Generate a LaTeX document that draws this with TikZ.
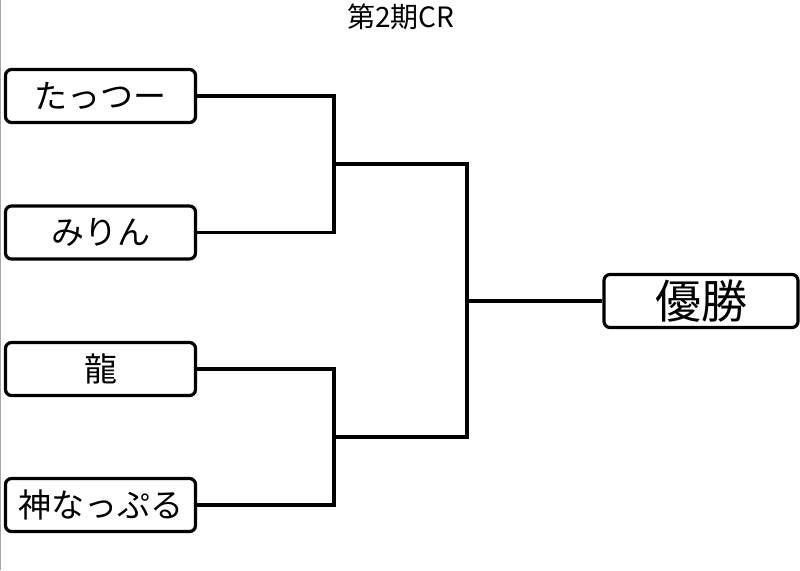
\documentclass[tikz,border=0pt]{standalone}
\usepackage{fontspec}
\newfontfamily\jpfont{Noto Sans CJK JP}
\usetikzlibrary{positioning}

\begin{document}
\begin{tikzpicture}[x=1pt,y=-1pt,
    playernode/.style={rectangle, rounded corners=6pt, draw=black, line width=3.2pt,
        minimum width=190pt, minimum height=53pt, inner sep=0pt,
        font=\jpfont\fontsize{33}{40}\selectfont},
    winnernode/.style={playernode, minimum width=194pt, font=\jpfont\fontsize{46}{52}\selectfont},
    bracket/.style={line width=3.2pt}]
        \useasboundingbox (0,0) rectangle (800,570);
        \draw[gray!70, line width=1.5pt] (0.5,0) -- (0.5,570);
        %Title
        \node[font=\jpfont\fontsize{28}{32}\selectfont] (title) at (401,17) {第2期CR};
        %Nodes
        \node[playernode]      (p1)       at (100.5,96)  {たっつー};
        \node[playernode]      (p2)       at (100.5,232.5) {みりん};
        \node[playernode]      (p3)       at (100.5,369) {龍};
        \node[playernode]      (p4)       at (100.5,505) {神なっぷる};
        \node[winnernode]      (win)      at (701,301)   {優勝};
        \coordinate (j1) at (334,164);
        \coordinate (j2) at (334,437);
        \coordinate (j3) at (467,301);
        %Lines
        \draw[bracket] (p1.east) -| (j1);
        \draw[bracket] (p2.east) -| (j1);
        \draw[bracket] (p3.east) -| (j2);
        \draw[bracket] (p4.east) -| (j2);
        \draw[bracket] (j1) -| (j3);
        \draw[bracket] (j2) -| (j3);
        \draw[bracket] (j3) -- (win.west);
    \end{tikzpicture}
\end{document}
